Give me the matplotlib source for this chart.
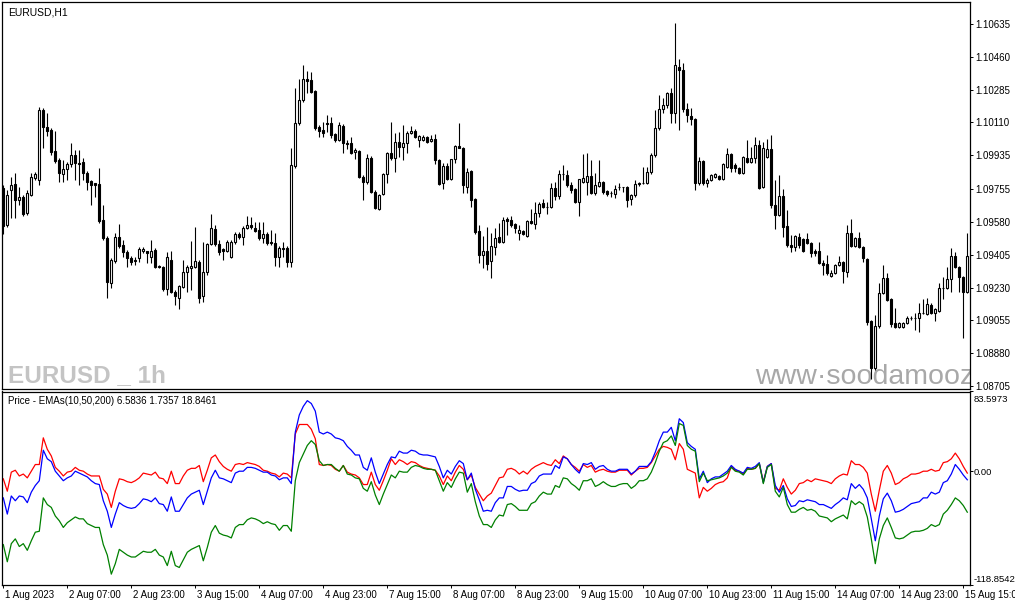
import numpy as np
import matplotlib.pyplot as plt
from matplotlib.transforms import ScaledTranslation

plt.rcParams['font.family'] = ['Liberation Sans', 'DejaVu Sans']

# EURUSD H1 candles, prices given in pips above 1.0800
BASE = 1.08
open_pips = [
    176.0, 156.3, 174.9, 178.1, 169.6, 171.2, 162.7, 172.3, 181.3, 180.2,
    217.5, 208.4, 206.8, 195.7, 190.9, 183.4, 186.1, 188.8, 193.5, 189.3,
    189.8, 184.0, 179.7, 178.6, 178.1, 159.0, 149.4, 125.4, 137.1, 149.9,
    145.7, 141.9, 138.7, 137.7, 138.7, 142.5, 142.5, 139.3, 143.0, 134.5,
    134.0, 122.3, 137.7, 120.7, 117.5, 123.3, 131.3, 133.4, 134.0, 136.6,
    118.5, 131.3, 146.2, 154.2, 146.2, 143.5, 142.5, 139.3, 147.3, 151.5,
    149.9, 154.7, 156.3, 154.7, 153.6, 149.4, 151.5, 147.3, 146.7, 139.3,
    144.1, 144.1, 136.6, 187.7, 210.6, 222.8, 234.0, 233.4, 227.6, 208.4,
    206.8, 210.6, 210.6, 204.7, 201.5, 209.0, 199.9, 199.9, 195.1, 195.7,
    181.8, 179.2, 191.9, 173.9, 164.8, 172.8, 183.4, 194.6, 191.9, 200.5,
    197.8, 199.9, 205.2, 206.3, 201.5, 201.5, 203.1, 201.0, 202.1, 190.9,
    178.6, 187.7, 180.8, 191.4, 198.3, 197.3, 176.5, 185.0, 170.1, 153.1,
    140.3, 142.5, 137.1, 144.6, 149.9, 147.3, 159.5, 159.0, 156.8, 152.0,
    153.1, 150.4, 158.4, 156.8, 162.7, 168.0, 165.9, 165.9, 176.0, 171.7,
    183.4, 182.9, 177.6, 175.5, 168.5, 179.2, 179.2, 182.4, 173.3, 177.0,
    179.2, 174.4, 173.3, 172.8, 176.5, 176.5, 176.5, 170.1, 172.3, 178.6,
    178.6, 178.6, 184.5, 193.5, 207.9, 218.0, 220.1, 226.5, 215.9, 240.4,
    238.8, 218.0, 214.3, 212.7, 178.6, 190.3, 178.6, 180.2, 181.8, 182.4,
    180.8, 187.2, 194.1, 188.2, 186.6, 184.0, 191.9, 189.8, 191.9, 198.9,
    176.5, 192.5, 196.7, 166.9, 161.6, 171.7, 155.8, 145.7, 144.6, 149.9,
    148.9, 148.9, 146.7, 142.5, 142.5, 136.1, 135.6, 129.2, 130.8, 135.0,
    136.6, 131.3, 152.0, 145.1, 149.4, 144.6, 138.2, 105.2, 80.2, 102.6,
    120.1, 128.1, 116.9, 104.2, 102.0, 102.0, 104.2, 106.8, 106.8, 106.8,
    109.5, 109.0, 113.7, 109.5, 110.5, 122.8, 122.8, 127.6, 139.8, 134.0,
    128.6, 120.7]
close_pips = [
    155.8, 172.3, 177.6, 169.6, 171.2, 162.2, 173.3, 181.8, 183.4, 217.5,
    208.4, 206.3, 195.1, 190.3, 184.0, 186.1, 188.8, 193.5, 189.3, 188.8,
    184.0, 179.2, 177.6, 177.6, 158.4, 149.4, 125.9, 137.7, 149.9, 145.1,
    141.9, 138.7, 136.6, 137.1, 143.5, 143.5, 141.4, 142.5, 134.0, 134.0,
    122.3, 139.3, 120.7, 118.5, 123.8, 131.3, 134.0, 134.5, 137.1, 117.5,
    131.3, 146.2, 154.7, 146.2, 141.9, 142.5, 147.3, 147.3, 151.5, 149.9,
    154.7, 156.3, 155.2, 153.1, 149.4, 151.5, 146.7, 146.7, 139.3, 144.1,
    143.5, 136.6, 188.2, 210.6, 222.8, 234.0, 232.9, 227.1, 207.9, 206.3,
    205.2, 210.0, 204.2, 201.5, 209.5, 199.9, 199.4, 194.6, 196.2, 181.8,
    179.2, 191.9, 173.9, 165.3, 172.3, 183.4, 194.6, 191.9, 200.5, 197.8,
    199.9, 205.2, 206.3, 203.1, 203.6, 203.1, 200.5, 202.1, 190.9, 178.1,
    187.7, 180.8, 191.4, 198.3, 197.3, 177.6, 184.5, 169.6, 152.6, 140.3,
    142.5, 135.6, 145.1, 149.4, 147.3, 159.0, 158.4, 156.3, 154.7, 153.6,
    151.5, 158.4, 157.4, 162.7, 167.5, 165.9, 165.9, 176.0, 171.7, 183.4,
    183.4, 177.6, 174.9, 168.5, 180.8, 181.3, 182.4, 173.3, 177.6, 179.2,
    173.9, 172.8, 173.3, 175.5, 176.5, 176.5, 169.6, 172.3, 178.1, 178.1,
    178.6, 184.5, 193.5, 207.9, 218.0, 220.1, 226.5, 215.9, 241.4, 238.8,
    218.0, 214.8, 212.7, 178.6, 190.3, 178.6, 180.2, 182.9, 183.4, 180.8,
    188.8, 194.1, 186.6, 186.6, 184.0, 192.5, 189.8, 191.9, 198.9, 176.0,
    197.3, 196.7, 166.9, 161.6, 171.7, 155.2, 145.7, 144.6, 150.4, 145.7,
    142.5, 146.7, 141.4, 141.4, 136.1, 135.0, 130.8, 130.8, 135.0, 136.6,
    131.8, 152.0, 145.1, 149.4, 144.6, 138.7, 104.7, 80.2, 102.6, 120.1,
    128.1, 116.4, 103.6, 102.0, 104.2, 104.2, 106.8, 106.8, 106.8, 109.5,
    109.5, 114.3, 109.5, 111.6, 122.8, 122.8, 127.6, 139.8, 134.0, 128.6,
    120.7, 139.8]
high_pips = [
    177.6, 174.9, 181.8, 184.0, 176.5, 172.3, 174.9, 184.0, 184.5, 219.1,
    218.5, 215.9, 207.9, 206.3, 191.9, 190.9, 189.8, 199.9, 196.2, 196.2,
    191.9, 185.0, 180.2, 178.6, 186.6, 166.9, 150.4, 138.7, 152.0, 156.8,
    148.3, 143.0, 139.8, 139.3, 144.6, 144.6, 142.5, 148.3, 144.1, 135.0,
    134.5, 141.9, 142.5, 121.7, 124.4, 137.7, 135.0, 147.8, 155.2, 137.7,
    147.3, 146.7, 162.2, 156.3, 148.3, 144.1, 148.3, 148.3, 152.6, 152.6,
    155.8, 161.1, 160.6, 157.9, 157.9, 157.9, 152.6, 153.6, 152.0, 145.1,
    147.3, 145.1, 197.3, 229.2, 234.0, 241.4, 238.2, 237.7, 228.1, 209.5,
    211.1, 214.8, 213.8, 205.2, 211.1, 210.0, 201.5, 203.1, 197.3, 196.2,
    182.9, 194.1, 193.0, 174.9, 172.8, 184.0, 195.1, 211.1, 205.2, 205.8,
    209.5, 206.3, 209.0, 207.4, 204.2, 204.2, 203.6, 204.2, 204.7, 191.4,
    189.3, 189.3, 191.4, 198.9, 210.6, 197.8, 186.6, 185.6, 170.7, 156.3,
    150.4, 155.2, 152.0, 154.7, 157.4, 160.6, 160.6, 161.1, 157.4, 156.3,
    153.6, 159.0, 164.8, 168.5, 168.5, 170.1, 168.5, 178.6, 179.2, 185.6,
    188.2, 185.6, 179.2, 176.0, 180.8, 194.1, 194.6, 190.9, 184.0, 190.9,
    179.7, 174.9, 174.4, 177.6, 178.6, 176.5, 177.0, 172.8, 180.2, 179.2,
    187.2, 187.2, 194.6, 217.5, 225.5, 223.9, 227.1, 229.2, 263.8, 245.1,
    242.5, 221.2, 218.5, 213.2, 192.5, 190.9, 181.3, 183.4, 184.0, 182.9,
    189.3, 197.3, 194.6, 189.3, 187.2, 193.0, 201.5, 197.8, 203.1, 201.5,
    200.5, 202.1, 204.2, 180.2, 182.9, 175.5, 164.3, 151.0, 151.0, 152.0,
    149.4, 152.0, 147.3, 143.5, 147.3, 137.7, 140.3, 132.4, 135.6, 139.8,
    137.1, 156.3, 159.5, 149.9, 152.6, 145.1, 138.7, 105.8, 108.4, 125.4,
    135.0, 130.8, 117.5, 112.1, 104.7, 104.7, 107.9, 107.9, 109.5, 114.8,
    116.9, 117.5, 114.8, 112.1, 125.4, 128.6, 134.0, 144.1, 141.9, 134.5,
    129.2, 152.0]
low_pips = [
    151.5, 155.2, 160.0, 160.0, 166.9, 161.1, 161.6, 171.7, 180.2, 177.6,
    197.3, 203.6, 193.5, 189.3, 179.2, 179.2, 180.2, 187.2, 180.2, 177.6,
    180.2, 174.9, 166.9, 171.2, 157.4, 148.3, 117.5, 122.8, 136.1, 144.1,
    139.3, 134.0, 135.0, 135.0, 136.6, 141.4, 136.1, 136.1, 133.4, 133.4,
    121.2, 119.1, 120.1, 113.7, 111.6, 122.8, 120.7, 121.7, 133.4, 114.8,
    115.3, 129.7, 145.7, 145.1, 140.3, 137.7, 141.9, 138.7, 146.2, 148.9,
    145.7, 154.2, 154.2, 152.6, 148.3, 146.7, 145.7, 145.7, 134.5, 134.0,
    139.3, 134.0, 134.0, 186.6, 209.5, 221.7, 226.5, 226.5, 206.8, 203.1,
    203.1, 205.8, 202.6, 200.5, 201.0, 194.6, 196.7, 194.1, 191.4, 181.3,
    169.6, 178.1, 173.3, 164.8, 164.3, 172.3, 178.6, 190.9, 184.5, 192.5,
    190.9, 194.6, 204.7, 202.6, 197.8, 201.0, 199.9, 200.5, 188.8, 177.6,
    175.5, 180.2, 180.2, 189.3, 197.3, 173.3, 173.3, 165.9, 151.5, 136.1,
    133.4, 132.4, 128.1, 140.3, 146.7, 146.7, 151.0, 155.2, 152.0, 148.3,
    151.0, 149.9, 156.8, 154.2, 160.6, 165.3, 162.2, 165.3, 169.6, 170.1,
    180.2, 176.5, 173.3, 168.0, 161.1, 178.6, 172.3, 172.8, 172.3, 176.5,
    172.8, 171.7, 171.2, 170.7, 174.9, 173.9, 165.9, 166.9, 171.2, 177.0,
    178.1, 178.1, 183.4, 192.5, 206.8, 215.9, 218.5, 210.6, 210.6, 206.8,
    216.4, 211.1, 209.5, 174.9, 177.6, 177.6, 176.5, 179.7, 181.3, 180.2,
    180.2, 186.6, 184.5, 184.5, 183.4, 183.4, 189.3, 189.3, 189.3, 175.5,
    176.0, 191.9, 165.3, 154.2, 161.1, 149.9, 144.6, 141.9, 142.5, 144.1,
    141.9, 146.2, 139.3, 139.8, 135.6, 129.7, 129.7, 128.6, 130.2, 134.5,
    125.4, 128.6, 144.6, 144.6, 144.1, 136.6, 103.1, 74.4, 79.2, 101.5,
    119.6, 115.9, 102.0, 101.5, 101.5, 101.5, 103.6, 105.8, 100.4, 99.4,
    109.0, 108.4, 109.0, 105.2, 110.0, 116.9, 122.3, 120.7, 133.4, 120.7,
    96.2, 120.1]

# Price - EMAs(10,50,200) indicator lines
ema_red = [
    -8, -21, -1, 1, -5, -3, -7, 0, 7, 7,
    35, 23, 16, 4, 0, -5, -1, 0, 4, 1,
    0, -3, -5, -5, -5, -19, -24, -38, -21, -8,
    -9, -11, -12, -10, -7, -2, -3, -4, -1, -7,
    -8, -13, 0, -13, -13, -5, 1, 3, 3, 6,
    -11, 1, 14, 17, 10, 5, 2, 0, 7, 8,
    7, 9, 8, 7, 5, 1, 0, -2, -3, -6,
    -2, -3, -7, 39, 49, 49, 49, 44, 34, 7,
    6, 7, 6, 2, 0, 6, -1, -3, -4, -7,
    -14, -14, -1, -14, -20, -10, 1, 13, 7, 12,
    10, 7, 10, 9, 6, 4, 3, 2, 1, -5,
    -14, -5, -10, -1, 6, 2, -9, -4, -17, -24,
    -31, -26, -23, -15, -7, -6, 2, 3, 1, -3,
    0, -3, 2, 5, 7, 9, 7, 6, 12, 8,
    16, 13, 7, 4, 0, 7, 4, 6, -1, 1,
    2, 0, -1, -1, 1, 1, 1, -4, 0, 3,
    3, 4, 9, 16, 23, 26, 25, 23, 12, 29,
    23, 2, 0, -2, -28, -17, -21, -18, -14, -12,
    -11, -7, 5, 1, 0, -3, 3, 2, 3, 8,
    -11, 5, 8, -18, -20, -8, -17, -24, -20, -13,
    -12, -9, -11, -8, -9, -10, -11, -13, -8, -5,
    -3, -4, 11, 7, 7, 4, -2, -24, -42, -20,
    0, 6, -2, -14, -12, -8, -6, -3, -3, -2,
    0, 0, 2, 0, 1, 9, 10, 13, 19, 13,
    5, -2]
ema_blue = [
    -28, -45, -26, -31, -26, -27, -33, -22, -15, -10,
    22, 13, 10, 0, -5, -10, -7, -5, 0, -2,
    -4, -6, -10, -13, -14, -31, -42, -59, -45, -33,
    -36, -38, -39, -38, -34, -29, -30, -32, -28, -34,
    -35, -42, -27, -42, -42, -35, -28, -24, -22, -20,
    -35, -21, -7, 1, -7, -8, -10, -12, -2, 0,
    0, 4, 4, 3, 1, -1, -1, -4, -5, -9,
    -7, -7, -13, 41, 59, 68, 74, 71, 63, 41,
    39, 41, 39, 35, 34, 32, 26, 22, 17, 17,
    4, 1, 14, -1, -13, -3, 7, 15, 14, 21,
    19, 19, 22, 21, 18, 17, 17, 16, 15, 5,
    -7, 1, -3, 5, 11, 8, -9, -2, -19, -30,
    -42, -41, -42, -33, -28, -28, -16, -16, -19, -21,
    -20, -20, -13, -11, -5, -3, -3, -3, 6, 3,
    15, 13, 7, 2, -2, 8, 7, 9, 2, 5,
    6, 2, 0, 0, 2, 2, 2, -3, 0, 5,
    5, 5, 10, 20, 32, 41, 41, 46, 32, 55,
    51, 30, 26, 23, -8, 0, -12, -8, -6, -6,
    -3, 0, 6, 2, 0, -2, 4, 3, 5, 9,
    -12, 5, 8, -15, -22, -15, -29, -37, -36, -31,
    -32, -30, -31, -32, -35, -35, -37, -39, -35, -32,
    -28, -30, -13, -18, -14, -19, -28, -50, -73, -47,
    -29, -23, -31, -43, -42, -40, -37, -34, -33, -32,
    -28, -28, -22, -24, -22, -12, -10, -3, 7, 2,
    -4, -9]
ema_green = [
    -77, -95, -76, -71, -79, -76, -83, -73, -64, -63,
    -28, -35, -38, -47, -52, -59, -54, -51, -48, -50,
    -50, -55, -57, -59, -59, -77, -88, -108, -97, -82,
    -85, -88, -90, -90, -87, -84, -85, -85, -82, -88,
    -90, -99, -84, -99, -101, -93, -85, -82, -80, -78,
    -94, -80, -64, -57, -65, -67, -68, -70, -59, -56,
    -56, -51, -49, -50, -52, -55, -53, -55, -56, -62,
    -57, -57, -63, -10, 9, 18, 27, 32, 28, 11,
    6, 7, 7, 3, 0, 6, -3, -4, -7, -8,
    -18, -21, -11, -25, -35, -24, -14, -4, -7, 0,
    -1, -1, 4, 6, 5, 3, 2, 2, 1, -10,
    -21, -12, -17, -8, -1, -2, -22, -13, -32, -47,
    -56, -56, -59, -51, -46, -47, -35, -34, -37, -41,
    -41, -41, -34, -32, -26, -22, -24, -24, -15, -17,
    -7, -8, -13, -16, -20, -10, -10, -8, -16, -14,
    -11, -14, -16, -16, -14, -13, -13, -18, -15, -10,
    -10, -8, -1, 9, 21, 30, 32, 37, 27, 50,
    48, 27, 23, 21, -11, -2, -10, -9, -8, -7,
    -5, -2, 4, 0, -1, -4, 2, 2, 3, 8,
    -13, 4, 7, -21, -27, -17, -35, -43, -43, -40,
    -38, -41, -40, -42, -47, -48, -49, -53, -50, -48,
    -46, -50, -31, -35, -32, -35, -48, -71, -97, -71,
    -57, -49, -59, -70, -71, -70, -67, -64, -63, -63,
    -62, -60, -56, -58, -56, -45, -41, -35, -28, -31,
    -36, -43]

time_labels = ['1 Aug 2023', '2 Aug 07:00', '2 Aug 23:00', '3 Aug 15:00',
               '4 Aug 07:00', '4 Aug 23:00', '7 Aug 15:00', '8 Aug 07:00',
               '8 Aug 23:00', '9 Aug 15:00', '10 Aug 07:00', '10 Aug 23:00',
               '11 Aug 15:00', '14 Aug 07:00', '14 Aug 23:00', '15 Aug 15:00']
price_ticks = [1.10635, 1.10460, 1.10285, 1.10110, 1.09935, 1.09755,
               1.09580, 1.09405, 1.09230, 1.09055, 1.08880, 1.08705]
ind_max, ind_min = 83.5973, -118.8542

o = BASE + np.array(open_pips) / 1e4
c = BASE + np.array(close_pips) / 1e4
h = BASE + np.array(high_pips) / 1e4
l = BASE + np.array(low_pips) / 1e4
x = np.arange(len(o))

W, H = 1015, 605
fig = plt.figure(figsize=(W / 100, H / 100), dpi=100, facecolor='white')
ax = fig.add_axes([2.3 / W, (H - 389) / H, (969.5 - 2.3) / W, (389 - 1.7) / H])
ax2 = fig.add_axes([2.3 / W, (H - 584.5) / H, (969.5 - 2.3) / W, (584.5 - 391.5) / H])

# candles
up = c >= o
ax.vlines(x, l, h, color='black', lw=0.8, zorder=2)
lo = np.minimum(o, c)
ht = np.abs(c - o)
ax.bar(x[up], ht[up], bottom=lo[up], width=0.55, facecolor='white',
       edgecolor='black', lw=0.8, zorder=3)
ax.bar(x[~up], ht[~up], bottom=lo[~up], width=0.55, facecolor='black',
       edgecolor='black', lw=0.8, zorder=3)

ax.set_xlim(-0.25, 241.55)
ax.set_ylim(1.08689, 1.10754)
ax.set_xticks([])
ax.yaxis.tick_right()
ax.set_yticks(price_ticks)
ax.set_yticklabels(['%.5f' % p for p in price_ticks])
ax.tick_params(axis='y', length=2.4, width=0.7, pad=1.6, labelsize=7)

ax.text(0.006, 0.986, 'EURUSD,H1', transform=ax.transAxes, fontsize=7.5,
        va='top', ha='left')
ax.text(0.006, 0.017, 'EURUSD _ 1h', transform=ax.transAxes, fontsize=17.5,
        fontweight='bold', color='#c4c4c4', va='baseline', ha='left',
        family=['Liberation Sans Narrow', 'DejaVu Sans Condensed', 'Liberation Sans'],
        zorder=1)
ax.text(0.778, 0.013, 'www\u00b7soodamooz.com', transform=ax.transAxes,
        fontsize=20.5, color='#a8a8a8', va='baseline', ha='left',
        clip_on=True, zorder=1)

# indicator
ax2.plot(x, ema_red, color='#ff0000', lw=0.9)
ax2.plot(x, ema_blue, color='#0000ff', lw=0.9)
ax2.plot(x, ema_green, color='#008000', lw=0.9)
ax2.set_xlim(-0.25, 241.55)
ax2.set_ylim(ind_min, ind_max)
ax2.yaxis.tick_right()
ax2.set_yticks([ind_min, 0, ind_max])
ax2.set_yticklabels(['-118.8542', '0.00', '83.5973'])
ax2.tick_params(axis='y', length=2.4, width=0.7, pad=0.3, labelsize=6.8)
ylabs = ax2.get_yticklabels()
ylabs[0].set_verticalalignment('bottom')
ylabs[0].set_transform(ylabs[0].get_transform()
                       + ScaledTranslation(0, 1 / 100, fig.dpi_scale_trans))
ylabs[2].set_verticalalignment('top')
ylabs[2].set_transform(ylabs[2].get_transform()
                       + ScaledTranslation(0, -3 / 100, fig.dpi_scale_trans))

ax2.set_xticks(np.arange(len(time_labels)) * 16)
ax2.set_xticklabels(time_labels)
ax2.tick_params(axis='x', length=2.4, width=0.7, pad=1.2, labelsize=7)
shift = ScaledTranslation(1.5 / 100, 0, fig.dpi_scale_trans)
for lab in ax2.get_xticklabels():
    lab.set_horizontalalignment('left')
    lab.set_transform(lab.get_transform() + shift)

ax2.text(0.006, 0.975, 'Price - EMAs(10,50,200) 6.5836 1.7357 18.8461',
         transform=ax2.transAxes, fontsize=7, va='top', ha='left')

for a in (ax, ax2):
    for s in a.spines.values():
        s.set_linewidth(0.9)
        s.set_color('black')

fig.savefig('out.png', dpi=100, facecolor='white')
